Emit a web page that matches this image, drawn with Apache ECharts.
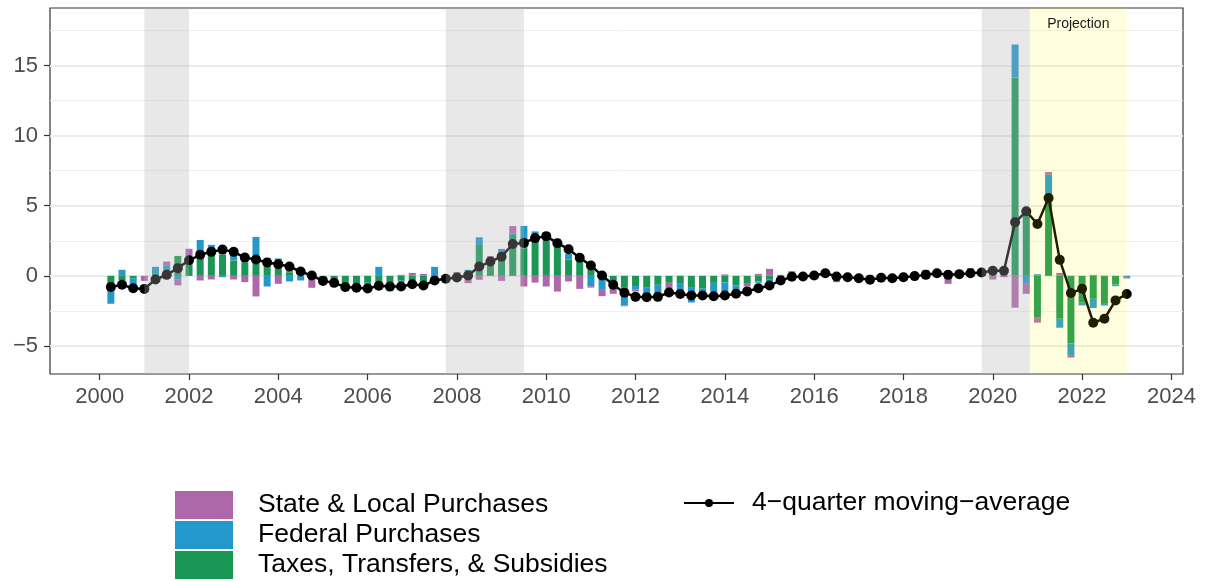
<!DOCTYPE html>
<html>
<head>
<meta charset="utf-8">
<script src="https://cdn.jsdelivr.net/npm/echarts@6/dist/echarts.min.js"></script>
<style>
html, body { margin: 0; padding: 0; background: #fff; }
#chart { width: 1208px; height: 581px; }
</style>
</head>
<body>
<div id="chart"></div>
<script>
// quarterly contributions, 2000Q1 .. 2022Q4 (plotted at quarter end)
var startYear = 2000;

var taxesTransfers = [
  -0.57, -0.33, -0.17, 0, 0.19, 0.35, 1.42, 1.33, 1.68, 1.97, 1.52, 1.09,
  0.97, 0.85, 1.21, 1.0, 0.26, 0, 0, -0.15, -0.35, -0.93, -0.69, -0.5,
  -0.45, -0.8, -0.35, -0.33, -0.45, 0, -0.1, 0, 0, 2.2, 1.26, 1.68,
  2.91, 1.97, 3.0, 2.6, 2.64, 1.17, 1.0, 0.5, 0, -0.33, -0.8, -0.73,
  -0.85, -0.64, -0.5, -0.57, -0.8, -0.92, -0.5, -0.47, -0.69, -0.57, -0.4, -0.28,
  -0.17, 0, 0, 0, 0, 0, 0, 0, 0, 0, 0, 0,
  0, 0, 0, 0, 0, 0.25, 0, 0.14, 0.26, 14.15, 4.4, -2.94,
  5.71, -3.06, -4.83, -1.92, -1.64, -2.0, -0.62, 0
];
var federal = [
  -1.42, 0.43, -0.6, 0, 0.45, 0.36, -0.28, 0, 0.88, 0.24, -0.1, 0.36,
  0, 1.92, -0.76, 0.24, -0.4, -0.33, 0, 0, 0, 0, 0, -0.19,
  0.64, -0.3, -0.1, 0, 0, 0.64, 0, 0, 0.43, 0.55, 0, 0.24,
  0.12, 1.59, 0.17, 0.2, 0, 0.4, 0, -0.74, -1.0, -0.55, -1.3, -0.26,
  -0.7, -0.64, 0, -0.6, -1.1, -0.28, -0.66, -0.7, -0.35, 0, -0.1, -0.12,
  0, 0, 0, 0, 0, 0, 0, 0, 0, 0, 0, 0.21,
  0, 0, 0, 0, 0, 0.2, 0.1, 0, 0, 2.35, -0.57, 0.12,
  1.5, -0.64, -0.88, -0.19, -0.66, -0.12, -0.12, -0.14
];
var stateLocal = [
  0, 0, 0, -0.36, 0, 0.31, -0.4, 0.6, -0.33, -0.26, 0, -0.26,
  -0.45, -1.47, 0.07, -0.57, 0.24, 0, -0.85, -0.2, 0, -0.17, 0, 0,
  0, 0, 0.07, 0.21, 0.14, -0.1, 0.05, 0.26, -0.52, -0.28, 0.14, -0.36,
  0.52, -0.76, -0.48, -0.76, -1.12, -0.4, -0.93, -0.1, -0.45, -0.4, -0.07, -0.12,
  0, 0, -0.43, 0, 0, 0, 0, 0.1, 0, -0.19, 0.14, 0.5,
  0.07, 0.33, 0.05, 0, 0, -0.45, 0, 0, 0.07, 0, 0, 0,
  0, 0.43, 0, -0.57, 0, 0.1, 0, -0.26, -0.1, -2.27, -0.71, -0.4,
  0.19, 0.21, -0.12, 0, 0.07, 0, 0, -0.05
];
var movingAvg = [
  -0.8, -0.64, -0.88, -0.93, -0.26, 0.07, 0.55, 1.11, 1.5, 1.71, 1.87, 1.71,
  1.3, 1.16, 0.95, 0.83, 0.66, 0.31, 0.02, -0.36, -0.5, -0.8, -0.85, -0.9,
  -0.71, -0.76, -0.76, -0.6, -0.69, -0.33, -0.21, -0.12, 0.02, 0.66, 1.02, 1.37,
  2.27, 2.35, 2.69, 2.83, 2.33, 1.9, 1.29, 0.74, 0.02, -0.64, -1.2, -1.5,
  -1.52, -1.5, -1.19, -1.3, -1.4, -1.4, -1.45, -1.4, -1.28, -1.11, -0.88, -0.69,
  -0.33, -0.07, -0.05, 0.02, 0.19, -0.05, -0.1, -0.17, -0.28, -0.14, -0.17, -0.1,
  -0.02, 0.07, 0.19, 0.07, 0.12, 0.19, 0.24, 0.36, 0.36, 3.82, 4.6, 3.7,
  5.55, 1.14, -1.23, -0.92, -3.34, -3.06, -1.75, -1.3
];

var recessions = [[2001.0, 2002.0], [2007.75, 2009.5], [2019.75, 2020.83]];
var projection = [2020.83, 2023.0];
var yearTicks = [2000, 2002, 2004, 2006, 2008, 2010, 2012, 2014, 2016, 2018, 2020, 2022, 2024];
var yTicks = [-5, 0, 5, 10, 15];

var font = "'Liberation Sans', Arial, sans-serif";

function xOf(i) { return startYear + (i + 1) / 4; }
// value first, date second, so the stack runs on the value column
function stackPairs(arr) {
  return arr.map(function (v, i) { return [v, xOf(i)]; });
}
function pairs(arr) {
  return arr.map(function (v, i) { return [xOf(i), v]; });
}

var areas = recessions.map(function (r) {
  return [{ xAxis: r[0], itemStyle: { color: 'rgba(180,180,180,0.3)' } }, { xAxis: r[1] }];
});
areas.push([{
  name: 'Projection', xAxis: projection[0],
  itemStyle: { color: 'rgba(255,255,0,0.12)' },
  label: { show: true, position: 'insideTop', distance: 9, color: '#1a1a1a', fontSize: 14, fontFamily: font }
}, { xAxis: projection[1] }]);

var myChart = echarts.init(document.getElementById('chart'));

var option = {
  animation: false,
  grid: {
    left: 50, right: 25, top: 8, bottom: 207,
    show: true, borderColor: '#333', borderWidth: 1.2
  },
  legend: [{
    data: ['State & Local Purchases', 'Federal Purchases', 'Taxes, Transfers, & Subsidies'],
    orient: 'vertical', left: 175, top: 491, height: 100, padding: 0,
    icon: 'rect', itemWidth: 58, itemHeight: 28, itemGap: 2,
    selectedMode: false,
    textStyle: { fontSize: 26.5, color: '#000', fontFamily: font, lineHeight: 28, padding: [0, 0, 0, 20] }
  }, {
    data: ['4\u2212quarter moving\u2212average'],
    left: 683, top: 489, padding: 0,
    itemWidth: 50, itemHeight: 10,
    selectedMode: false,
    textStyle: { fontSize: 26.5, color: '#000', fontFamily: font, lineHeight: 28, padding: [0, 0, 0, 13] }
  }],
  xAxis: {
    type: 'value', min: 1998.887, max: 2024.26,
    axisLine: { show: false, onZero: false },
    splitLine: { show: false },
    axisTick: { show: true, length: 6, customValues: yearTicks, lineStyle: { color: '#333', width: 1.2 } },
    axisLabel: {
      customValues: yearTicks, fontSize: 22, color: '#4d4d4d', margin: 12, fontFamily: font,
      formatter: function (v) { return String(v); }
    }
  },
  yAxis: {
    type: 'value', min: -7, max: 19.1, minInterval: 5, maxInterval: 5,
    axisLine: { show: false, onZero: false },
    axisTick: { show: true, length: 6, customValues: yTicks, lineStyle: { color: '#333', width: 1.2 } },
    axisLabel: {
      customValues: yTicks, fontSize: 22, color: '#4d4d4d', margin: 12, fontFamily: font,
      formatter: function (v) { return v < 0 ? '\u2212' + Math.abs(v) : String(v); }
    },
    splitLine: { show: true, lineStyle: { color: '#ebebeb', width: 2 } },
    minorTick: { show: false, splitNumber: 2 },
    minorSplitLine: { show: true, lineStyle: { color: '#f0f0f0', width: 1 } }
  },
  series: [{
    name: 'Taxes, Transfers, & Subsidies', type: 'bar', stack: 'total',
    barWidth: 7, itemStyle: { color: '#1b9755' },
    encode: { x: 1, y: 0 },
    data: stackPairs(taxesTransfers)
  }, {
    name: 'Federal Purchases', type: 'bar', stack: 'total',
    barWidth: 7, itemStyle: { color: '#2399cb' },
    encode: { x: 1, y: 0 },
    data: stackPairs(federal)
  }, {
    name: 'State & Local Purchases', type: 'bar', stack: 'total',
    barWidth: 7, itemStyle: { color: '#ae68aa' },
    encode: { x: 1, y: 0 },
    data: stackPairs(stateLocal)
  }, {
    name: '4\u2212quarter moving\u2212average', type: 'line',
    symbol: 'circle', symbolSize: 10, z: 5,
    lineStyle: { color: '#000', width: 2.5 },
    itemStyle: { color: '#000' },
    data: pairs(movingAvg)
  }, {
    // shaded periods drawn over the marks
    name: 'shading', type: 'line', data: [], z: 10, silent: true,
    markArea: { silent: true, z: 20, label: { show: false }, data: areas }
  }]
};

myChart.setOption(option);
</script>
</body>
</html>
